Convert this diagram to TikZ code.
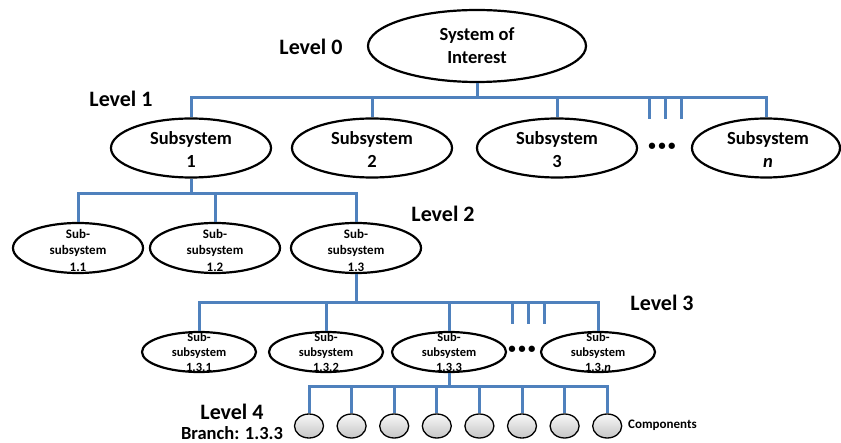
\documentclass[tikz,border=0pt]{standalone}
\usepackage{fontspec}
\setmainfont{Carlito}
\usepackage{tikz}
\usetikzlibrary{shapes.geometric}
\definecolor{busblue}{RGB}{79,129,189}
\tikzset{
  sysell/.style={ellipse, draw=black, line width=2.2pt, inner sep=0pt},
  soiell/.style={sysell, minimum width=218pt, minimum height=72pt},
  subell/.style={sysell, minimum width=160pt, minimum height=59pt},
  ssell/.style={sysell, minimum width=130pt, minimum height=50pt},
  sssell/.style={sysell, minimum width=114pt, minimum height=40pt},
  comp/.style={ellipse, draw=black, line width=1.3pt, inner sep=0pt, minimum width=29pt, minimum height=24pt, top color=gray!6, bottom color=gray!45},
  bus/.style={draw=busblue, line width=3pt},
  bigtxt/.style={align=center, inner sep=0pt, font=\bfseries\fontsize{18.5}{23}\selectfont},
  midtxt/.style={align=center, inner sep=0pt, font=\bfseries\fontsize{13}{16.5}\selectfont},
  smalltxt/.style={align=center, inner sep=0pt, font=\bfseries\fontsize{12.5}{15}\selectfont},
  lvltxt/.style={inner sep=0pt, font=\bfseries\fontsize{22}{26}\selectfont},
  dotstxt/.style={inner sep=0pt, font=\bfseries\fontsize{15}{18}\selectfont},
}
\begin{document}
\begin{tikzpicture}[x=1pt, y=-1pt]
\useasboundingbox (0,0) rectangle (841,443);

% level 0
\node[soiell] (soi) at (477,46) {};
\node[bigtxt] (soi-t) at (soi) {System of\\Interest};
\node[lvltxt] (lvl0) at (311,47) {Level 0};

% level 1
\node[lvltxt] (lvl1) at (121,99) {Level 1};
\node[subell] (sub1) at (191,148) {};
\node[subell] (sub2) at (372,148) {};
\node[subell] (sub3) at (557,148) {};
\node[subell, minimum width=148pt] (subn) at (766,148) {};
\node[bigtxt] (sub1-t) at (191,150) {Subsystem\\1};
\node[bigtxt] (sub2-t) at (372,150) {Subsystem\\2};
\node[bigtxt] (sub3-t) at (557,150) {Subsystem\\3};
\node[bigtxt] (subn-t) at (768,150) {Subsystem\\\textit{n}};
\node[dotstxt] (dots1) at (662,147) {\textbullet\,\textbullet\,\textbullet};

\coordinate (b1) at (0,98);
\foreach \s in {sub1,sub2,sub3,subn}{ \draw[bus] (soi.south) -- (soi.south |- b1) -| (\s.north); }
\foreach \x [count=\i] in {649,665,681}{
  \coordinate (t1\i) at (\x,119);
  \draw[bus] (t1\i |- b1) -- (t1\i);
}

% level 2
\node[lvltxt] (lvl2) at (443,214) {Level 2};
\foreach \n/\x in {11/78,12/215,13/356}{
  \node[ssell] (ss\n) at (\x,248) {};
}
\node[midtxt] (ss11-t) at (78,250) {Sub-\\subsystem\\1.1};
\node[midtxt] (ss12-t) at (215,250) {Sub-\\subsystem\\1.2};
\node[midtxt] (ss13-t) at (356,250) {Sub-\\subsystem\\1.3};

\coordinate (b2) at (0,194);
\foreach \s in {ss11,ss12,ss13}{ \draw[bus] (sub1.south) -- (sub1.south |- b2) -| (\s.north); }

% level 3
\node[lvltxt] (lvl3) at (662,303) {Level 3};
\foreach \n/\x in {131/199,132/326,133/449,13n/598}{
  \node[sssell] (sss\n) at (\x,352) {};
}
\node[smalltxt] (sss131-t) at (199,352) {Sub-\\subsystem\\1.3.1};
\node[smalltxt] (sss132-t) at (326,352) {Sub-\\subsystem\\1.3.2};
\node[smalltxt] (sss133-t) at (449,352) {Sub-\\subsystem\\1.3.3};
\node[smalltxt] (sss13n-t) at (598,352) {Sub-\\subsystem\\1.3.\textit{n}};
\node[dotstxt] (dots3) at (522,350) {\textbullet\,\textbullet\,\textbullet};

\coordinate (b3) at (0,303);
\foreach \s in {sss131,sss132,sss133,sss13n}{ \draw[bus] (ss13.south) -- (ss13.south |- b3) -| (\s.north); }
\foreach \x [count=\i] in {512,528,544}{
  \coordinate (t3\i) at (\x,324);
  \draw[bus] (t3\i |- b3) -- (t3\i);
}

% level 4 - components of branch 1.3.3
\node[lvltxt] (lvl4) at (232,412) {Level 4};
\node[bigtxt] (branch) at (232,433) {Branch: 1.3.3};
\coordinate (b4) at (0,387);
\foreach \i in {1,...,8}{
  \node[comp] (c\i) at ({309+42.6*(\i-1)},426) {};
  \draw[bus] (sss133.south) -- (sss133.south |- b4) -| (c\i.north);
}
\node[midtxt, anchor=west] (comps) at (628,425) {Components};
\end{tikzpicture}
\end{document}
